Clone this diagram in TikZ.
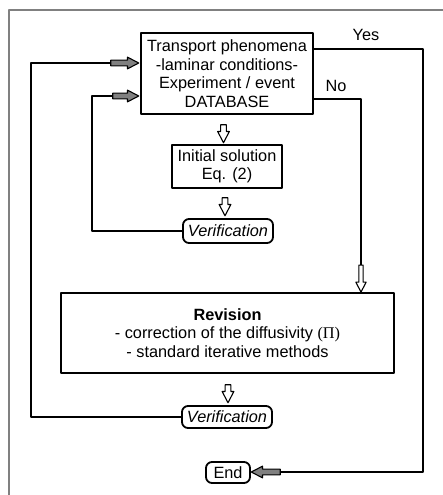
\documentclass[tikz,border=0pt]{standalone}
\usepackage{fontspec}
\setmainfont{Liberation Sans}
\newfontfamily\serifgr{Liberation Serif}
\usetikzlibrary{shapes.arrows}
\begin{document}
\begin{tikzpicture}[x=1pt, y=-1pt, font=\fontsize{16.3}{18.5}\selectfont, line join=round,
    box/.style={draw, line width=1.8pt, align=center, inner sep=0pt},
    term/.style={box, rounded corners=6pt, font=\fontsize{16.3}{18.5}\selectfont\itshape},
    blk/.style={draw, line width=1.1pt, single arrow, single arrow head extend=3pt, single arrow tip angle=55, single arrow head indent=0pt, inner sep=2.3pt},
    wire/.style={line width=1.6pt}]
    \useasboundingbox (0,0) rectangle (443,495);
    \draw[gray, line width=1.2pt] (9,495) -- (9,10) -- (443,10);
    % boxes
    \node[box, minimum width=172pt, minimum height=81pt] (db) at (227,73.5) {Transport phenomena\\-laminar conditions-\\Experiment / event\\DATABASE};
    \node[box, minimum width=110pt, minimum height=43pt] (init) at (227,166.5) {Initial solution\\Eq. (2)};
    \node[term, minimum width=90pt, minimum height=24pt] (ver1) at (228,231) {Verification};
    \node[box, minimum width=333pt, minimum height=80pt] (rev) at (227.5,333) {\textbf{Revision}\\- correction of the diffusivity {\serifgr(Π)}\\- standard iterative methods};
    \node[term, minimum width=90pt, minimum height=22pt] (ver2) at (227,417) {Verification};
    \node[term, font=\fontsize{16.3}{18.5}\selectfont, minimum width=44pt, minimum height=21pt] (end) at (228,472.5) {End};
    % block arrows
    \foreach \n/\x/\y/\r/\l/\c/\s in {outA/122/63/0/28/gray/2.3, inA/123/96/0/26/gray/2.3, dnA/223.5/131/270/18/white/2.3, dnB/225/204/270/18/white/2.3, noA/361/276.5/270/27/white/1.6, dnC/228/391/270/18/white/2.3, endA/268.5/472/180/29/gray/2.3}
        \node[blk, shape border rotate=\r, minimum height=\l pt, inner sep=\s pt, fill=\c] (\n) at (\x,\y) {};
    \path (423,49) coordinate (yesC) (361,99) coordinate (noC) (92,96) coordinate (inC) (31,63) coordinate (outC);
    \draw[wire] (db.east |- yesC) -- (yesC) |- (endA.tail);
    \draw[wire] (db.east |- noC) -- (noC) -- (noA.tail);
    \draw[wire] (ver1.west) -| (inC) -- (inA.tail);
    \draw[wire] (ver2.west) -| (outC) -- (outA.tail);
    \node (yes) at (366,35) {Yes};
    \node (no) at (336,86) {No};
\end{tikzpicture}
\end{document}
